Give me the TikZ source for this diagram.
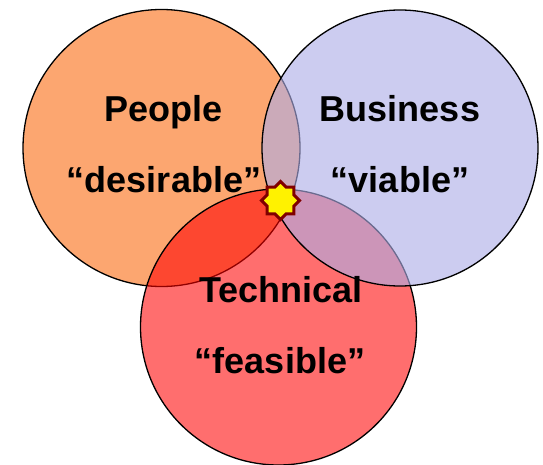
\documentclass[tikz,border=0pt]{standalone}
\usepackage{fontspec}
\setmainfont{Liberation Sans}
\usetikzlibrary{shapes.geometric}
\definecolor{peoplecol}{RGB}{252,166,112}
\definecolor{techcol}{RGB}{255,0,0}
\definecolor{buscol}{RGB}{173,173,231}
\definecolor{starborder}{RGB}{128,0,0}
\begin{document}
\begin{tikzpicture}[x=1pt,y=-1pt,
  venn/.style={draw=black, line width=1.3pt},
  vtext/.style={font=\fontsize{36}{40}\selectfont\bfseries, anchor=base, inner sep=0pt},
  spark/.style={star, star points=8, star point ratio=1.31, minimum size=38pt,
    inner sep=0pt, fill=yellow, draw=starborder, line width=3pt}]
\useasboundingbox (0,0) rectangle (543,465);
\fill[white] (0,0) rectangle (543,465);
\draw[venn, fill=peoplecol] (161.5,148) circle[radius=138.5];
\draw[venn, fill=techcol, fill opacity=0.57] (278.5,327) circle[radius=138];
\draw[venn, fill=buscol, fill opacity=0.62] (400,148) circle[radius=138];
\node[vtext] (people) at (163.5,121.7) {People};
\node[vtext] (desirable) at (164,193) {“desirable”};
\node[vtext] (business) at (400,122) {Business};
\node[vtext] (viable) at (400,193) {“viable”};
\node[vtext] (technical) at (281,302) {Technical};
\node[vtext] (feasible) at (280,373) {“feasible”};
\node[spark] (sparkstar) at (280.5,200.5) {};
\end{tikzpicture}
\end{document}
